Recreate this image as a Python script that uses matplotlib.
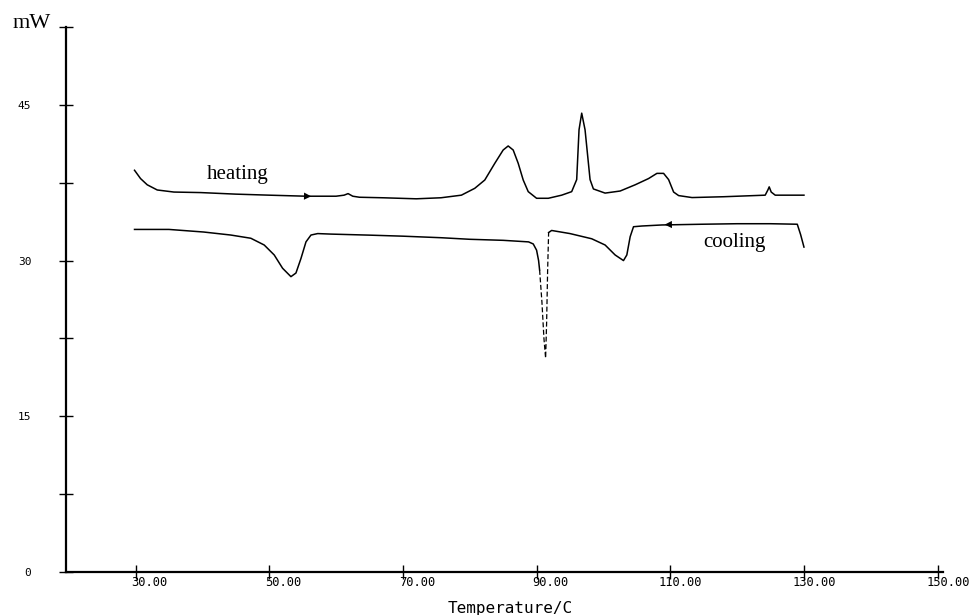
import matplotlib
matplotlib.use("Agg")
import matplotlib.pyplot as plt
from matplotlib.ticker import FixedLocator
import matplotlib.transforms as mtransforms

# ---- data ----
heat_T = [29.85, 30.75, 31.75, 33.25, 35.75, 39.75, 45, 50, 55.5, 60, 61.2, 61.8, 62.5, 63.5, 67, 72,
          75.7, 78.75, 80.75, 82.25, 83.75, 85.0, 85.75, 86.5, 87.25, 88.0, 88.75, 90.0, 91.75, 93.75,
          95.25, 96.0, 96.35, 96.75, 97.25, 98.0, 98.5, 100.25, 102.5, 104.75, 106.75, 108.0, 109.0,
          109.75, 110.5, 111.25, 113.25, 118, 124.2, 124.6, 124.8, 125.1, 125.7, 130]
heat_W = [38.7, 37.9, 37.3, 36.8, 36.6, 36.55, 36.4, 36.3, 36.2, 36.2, 36.3, 36.45, 36.2, 36.1, 36.05, 35.95,
          36.05, 36.3, 36.96, 37.76, 39.37, 40.65, 41.04, 40.65, 39.37, 37.76, 36.64, 36.0, 36.0, 36.3,
          36.64, 37.8, 42.6, 44.2, 42.6, 37.8, 36.9, 36.5, 36.7, 37.3, 37.9, 38.4, 38.4,
          37.8, 36.6, 36.26, 36.07, 36.15, 36.3, 36.8, 37.1, 36.6, 36.3, 36.3]

cool1_T = [29.85, 35, 40.2, 44.25, 47.25, 49.25, 50.75, 52.0, 53.25, 54.0, 54.75, 55.5, 56.25,
           57.25, 59.25, 65, 70, 75.75, 80, 85, 88.8, 89.5, 90, 90.3, 90.45]
cool1_W = [33.0, 33.0, 32.75, 32.46, 32.15, 31.5, 30.54, 29.26, 28.45, 28.8, 30.2, 31.8, 32.46,
           32.6, 32.55, 32.45, 32.35, 32.2, 32.05, 31.95, 31.8, 31.6, 31.0, 30.0, 29.1]
cool_dash_T = [90.45, 90.8, 91.1, 91.35, 91.5, 91.65, 91.8]
cool_dash_W = [29.1, 26.0, 22.5, 20.6, 24.0, 29.0, 32.7]
cool2_T = [91.8, 92.25, 95, 98.25, 100.25, 101.75, 103.0, 103.5, 104.0, 104.5, 105.75, 108.75,
           114.75, 120, 125, 129, 129.5, 130]
cool2_W = [32.7, 32.9, 32.6, 32.1, 31.5, 30.54, 30.0, 30.54, 32.3, 33.26, 33.33, 33.43,
           33.5, 33.55, 33.55, 33.5, 32.5, 31.3]

x_ticks = [30, 50, 70, 90, 110, 130, 150]
x_tick_labels = ["30.00", "50.00", "70.00", "90.00", "110.00", "130.00", "150.00"]
y_ticks = [0, 15, 30, 45]
y_tick_labels = ["0", "15", "30", "45"]

# ---- figure ----
W, H = 972, 615
fig = plt.figure(figsize=(W / 100, H / 100), dpi=100)
left, right, bottom, top = 66, 943, 572, 27
ax = fig.add_axes([left / W, 1 - bottom / H, (right - left) / W, (bottom - top) / H])
ax.set_xlim(19.6, 150.8)
ax.set_ylim(0, 52.5)

lw = 1.1
ax.plot(heat_T, heat_W, color="black", lw=lw)
ax.plot(cool1_T, cool1_W, color="black", lw=lw)
ax.plot(cool_dash_T, cool_dash_W, color="black", lw=0.9, ls=(0, (4, 2)))
ax.plot(cool2_T, cool2_W, color="black", lw=lw)

# direction arrows
ax.annotate("", xy=(56.7, 36.18), xytext=(54.4, 36.22),
            arrowprops=dict(arrowstyle="-|>", color="black", lw=0, mutation_scale=13))
ax.annotate("", xy=(108.75, 33.46), xytext=(111.2, 33.48),
            arrowprops=dict(arrowstyle="-|>", color="black", lw=0, mutation_scale=13))

ax.text(207 / W, 1 - 175 / H, "heating", transform=fig.transFigure, family="Liberation Serif",
        fontsize=15, va="center", ha="left")
ax.text(703 / W, 1 - 243 / H, "cooling", transform=fig.transFigure, family="Liberation Serif",
        fontsize=15, va="center", ha="left")

for s in ["top", "right"]:
    ax.spines[s].set_visible(False)
for s in ["left", "bottom"]:
    ax.spines[s].set_linewidth(1.6)

ax.xaxis.set_major_locator(FixedLocator(x_ticks))
ax.set_xticklabels(x_tick_labels, family="DejaVu Sans Mono", fontsize=8.7)
ax.yaxis.set_major_locator(FixedLocator(y_ticks))
ax.set_yticklabels(y_tick_labels, family="DejaVu Sans Mono", fontsize=8)
ax.yaxis.set_minor_locator(FixedLocator([7.5, 22.5, 37.5, 52.5]))
ax.tick_params(axis="x", direction="inout", length=10, width=1.0, pad=-2)
ax.tick_params(axis="y", which="both", direction="inout", length=10, width=1.0, pad=20)

offset = mtransforms.ScaledTranslation(32 / 100, 0, fig.dpi_scale_trans)
for lab in ax.get_xticklabels():
    lab.set_horizontalalignment("right")
    lab.set_transform(lab.get_transform() + offset)

fig.text(510 / W, 1 - 608 / H, "Temperature/C", family="DejaVu Sans Mono", fontsize=11.5,
         ha="center", va="center")
fig.text(32 / W, 1 - 23 / H, "mW", family="Liberation Serif", fontsize=16, ha="center", va="center")

fig.savefig("out.png", dpi=100)
